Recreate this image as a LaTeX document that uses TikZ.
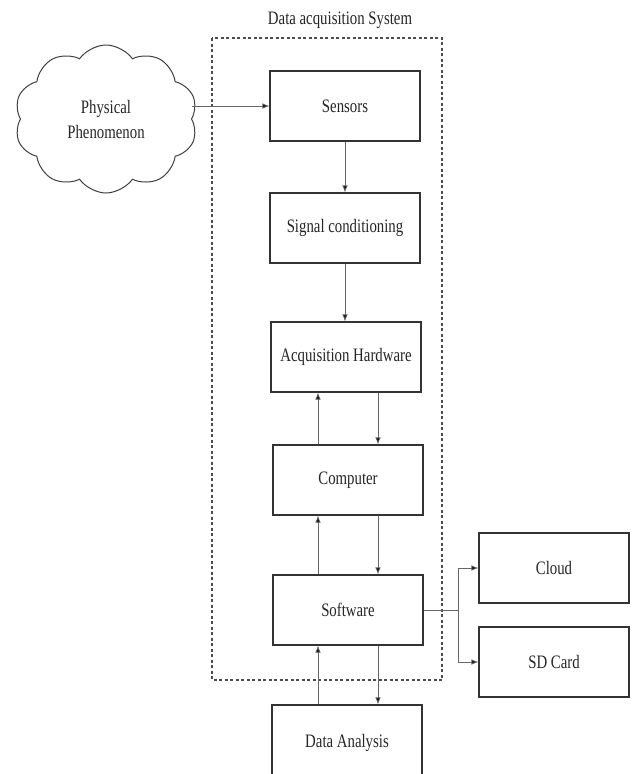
\documentclass[tikz,border=0pt]{standalone}
\usepackage{fontspec}
\setmainfont{Liberation Serif}[FakeStretch=0.78]
\usetikzlibrary{shapes.symbols,arrows.meta}
\begin{document}
\begin{tikzpicture}[x=1pt,y=-1pt,
  box/.style={draw=black!80, line width=1.2pt, minimum width=150pt, minimum height=70pt, inner sep=0pt, text=black!85},
  arr/.style={draw=black!60, line width=0.7pt, -{Latex[length=7pt,width=5.5pt,fill=black!90]}},
  ln/.style={draw=black!60, line width=0.7pt},
  every node/.style={font=\fontsize{19}{25}\selectfont}]
\clip (0,0) rectangle (632,774);
\useasboundingbox (0,0) rectangle (632,774);
\fill[white] (0,0) rectangle (632,774);
% dashed system boundary
\draw[black!70, line width=1.3pt, dash pattern=on 3pt off 2.5pt] (212,38) rectangle (442,680);
\node[text=black!85] (title) at (340,20) {Data acquisition System};
% cloud
\node[cloud, cloud puffs=10, cloud puff arc=110, draw=black!75, line width=1pt, minimum width=183pt, minimum height=148pt, align=center, text=black!85, inner sep=0pt] (phen) at (106,119) {Physical\\Phenomenon};
% boxes
\node[box] (sens) at (345,106) {Sensors};
\node[box] (sig) at (345,228) {Signal conditioning};
\node[box] (acq) at (346,357) {Acquisition Hardware};
\node[box] (comp) at (348,480) {Computer};
\node[box] (soft) at (348,610) {Software};
\node[box, minimum height=80pt] (da) at (347,745) {\raisebox{8pt}{Data Analysis}};
\node[box] (cloudb) at (554,568) {Cloud};
\node[box] (sd) at (554,662) {SD Card};
% connectors
\draw[arr] (phen.east |- sens.west) -- (sens.west);
\draw[arr] (sens.south) -- (sig.north);
\draw[arr] (sig.south) -- (sig.south |- acq.north);
\draw[arr] ([xshift=32pt]acq.south) -- ([xshift=30pt]comp.north);
\draw[arr] ([xshift=-30pt]comp.north) -- ([xshift=-28pt]acq.south);
\draw[arr] ([xshift=30pt]comp.south) -- ([xshift=30pt]soft.north);
\draw[arr] ([xshift=-30pt]soft.north) -- ([xshift=-30pt]comp.south);
\draw[arr] ([xshift=30pt]soft.south) -- ([xshift=31pt]da.north);
\draw[arr] ([xshift=-29pt]da.north) -- ([xshift=-30pt]soft.south);
\draw[ln] (soft.east) -- ++(35,0) coordinate (j);
\draw[arr] (j) |- (cloudb.west);
\draw[arr] (j) |- (sd.west);
\end{tikzpicture}
\end{document}
